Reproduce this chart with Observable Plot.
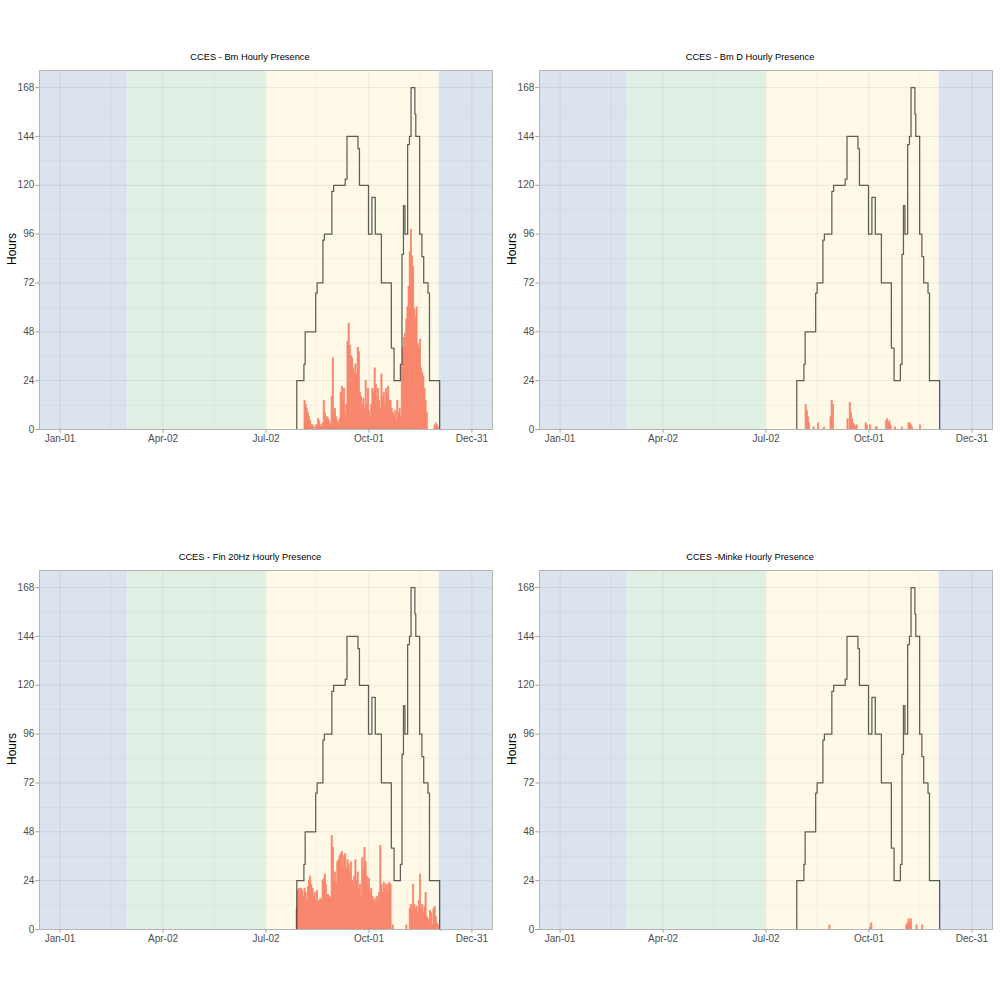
<!DOCTYPE html>
<html><head><meta charset="utf-8">
<script src="https://cdn.jsdelivr.net/npm/d3@7"></script>
<script src="https://cdn.jsdelivr.net/npm/@observablehq/plot@0.6"></script>
<style>
body{margin:0;background:#fff;font-family:"Liberation Sans",Arial,Helvetica,sans-serif;}
#root{position:relative;width:1000px;height:1000px;overflow:hidden;}
.title{position:absolute;width:500px;text-align:center;font-size:9.3px;line-height:12px;color:#000;}
.ylab{position:absolute;font-size:12px;color:#000;transform:translate(-50%,-50%) rotate(-90deg);white-space:nowrap;}
.panel{position:absolute;}
</style></head><body><div id="root"></div>
<script>
// ---------- data ----------
const titles = ["CCES - Bm Hourly Presence", "CCES - Bm D Hourly Presence", "CCES - Fin 20Hz Hourly Presence", "CCES -Minke Hourly Presence"];
const tickDates = ["2018-01-01", "2018-04-02", "2018-07-02", "2018-10-01", "2018-12-31"];
const minorDates = ["2018-02-15", "2018-05-17", "2018-08-16", "2018-11-15"];
const yTicks = [0, 24, 48, 72, 96, 120, 144, 168];
const yMinor = [12, 36, 60, 84, 108, 132, 156];
const seasonBreaks = ["2018-03-02", "2018-07-02", "2018-12-02"];
const seasonFills = ["#dbe4ee", "#e1f0e5", "#fefae7", "#dbe4ee"];

// effort: day of year (0 = Jan-01) and hours in week, drawn as a step line
const effortDay = [209.2, 209.2, 215.5, 216.6, 225.9, 227.2, 232.3, 233.6, 240.2, 241.8, 252.0, 253.6, 263.3, 264.6, 272.6, 275.6, 278.6, 284.0, 292.8, 295.2, 300.8, 302.2, 303.5, 304.8, 307.2, 308.8, 310.2, 313.6, 314.4, 317.8, 319.8, 321.4, 325.2, 326.5, 335.5, 337.5];
const effortHours = [0, 24, 32, 48, 67, 72, 93, 96, 117, 120, 123, 144, 138, 120, 96, 114, 96, 72, 40, 24, 32, 86, 110, 96, 140, 144, 168, 155, 144, 96, 85, 72, 67, 24, 0, 0];

// Bm daily hours, consecutive days from bmStart
const bmStart = "2018-08-05";
const bmHours = [14, 12, 10, 8, 6, 4, 2, 2, 1, 0, 2, 1, 5, 4, 2, 1, 3, 14, 8, 5, 6, 5, 4, 2, 16, 35, 8, 10, 6, 4, 3, 5, 18, 21, 14, 20, 8, 12, 43, 52, 41, 36, 35, 30, 28, 32, 27, 40, 38, 18, 16, 12, 15, 10, 24, 12, 20, 9, 6, 12, 20, 18, 30, 22, 16, 20, 14, 10, 27, 16, 18, 12, 20, 16, 21, 14, 14, 10, 8, 6, 9, 4, 14, 8, 10, 6, 31, 40, 45, 47, 54, 60, 70, 87, 98, 85, 80, 59, 55, 60, 42, 40, 44, 30, 28, 26, 20, 14, 8, 0, 0, 0, 0, 0, 0, 2, 3, 2, 1];

// Fin 20Hz daily hours, consecutive days from finStart
const finStart = "2018-07-29";
const finHours = [10, 19, 20, 17, 20, 19, 16, 20, 18, 14, 21, 24, 26, 22, 20, 16, 18, 14, 19, 13, 14, 15, 14, 24, 25, 27, 22, 17, 17, 16, 15, 46, 40, 24, 28, 22, 33, 34, 36, 37, 38, 30, 36, 37, 30, 34, 32, 28, 33, 24, 22, 26, 34, 24, 28, 20, 22, 16, 35, 30, 40, 33, 26, 22, 25, 18, 20, 16, 14, 15, 13, 16, 14, 18, 41, 22, 18, 23, 20, 22, 18, 22, 23, 22, 0, 2, 0, 0, 0, 0, 0, 0, 0, 0, 0, 0, 0, 2, 0, 0, 10, 12, 9, 22, 12, 10, 11, 8, 14, 27, 10, 12, 8, 11, 18, 6, 5, 4, 9, 8, 2, 10, 11, 6, 3, 2];

// Bm D detections (sparse)
const bmdDates = ["2018-08-06", "2018-08-07", "2018-08-08", "2018-08-09", "2018-08-13", "2018-08-17", "2018-08-22", "2018-08-28", "2018-08-29", "2018-08-30", "2018-09-12", "2018-09-14", "2018-09-15", "2018-09-16", "2018-09-17", "2018-09-18", "2018-09-19", "2018-09-20", "2018-09-28", "2018-09-29", "2018-10-02", "2018-10-07", "2018-10-08", "2018-10-16", "2018-10-17", "2018-10-18", "2018-10-19", "2018-10-20", "2018-10-24", "2018-10-30", "2018-11-05", "2018-11-06", "2018-11-07", "2018-11-08", "2018-11-15"];
const bmdHours = [12, 9, 6, 3, 1, 3, 1, 6, 14, 12, 5, 13, 8, 5, 3, 2, 1, 2, 3, 2, 2, 1, 1, 4, 5, 3, 4, 2, 1, 1, 3, 3, 2, 1, 2];

// Minke detections (sparse)
const minkeDates = ["2018-08-27", "2018-10-02", "2018-10-03", "2018-11-03", "2018-11-04", "2018-11-05", "2018-11-06", "2018-11-07", "2018-11-12", "2018-11-17"];
const minkeHours = [2, 1, 3, 2, 3, 5, 3, 5, 2, 2];

// ---------- helpers ----------
const DAY = 864e5;
const parse = s => new Date(s + "T00:00:00Z");
const jan1 = parse(tickDates[0]);
const dec31 = parse(tickDates[tickDates.length - 1]);
const span = dec31 - jan1;
const xDomain = [new Date(+jan1 - 0.05 * span), new Date(+dec31 + 0.05 * span)];
const yDomain = [0, d3.max(yTicks) * 1.05];

const seasonEdges = [xDomain[0], ...seasonBreaks.map(parse), xDomain[1]];
const seasons = seasonFills.map((f, i) => ({x1: seasonEdges[i], x2: seasonEdges[i + 1], fill: f}));
const effort = effortDay.map((d, i) => ({date: new Date(+jan1 + d * DAY), hours: effortHours[i]}));

const consecutive = (start, vals) => vals.map((v, i) => ({date: new Date(+parse(start) + i * DAY), hours: v}));
const sparse = (dates, vals) => dates.map((d, i) => ({date: parse(d), hours: vals[i]}));
const panelsData = [
  consecutive(bmStart, bmHours),
  sparse(bmdDates, bmdHours),
  consecutive(finStart, finHours),
  sparse(minkeDates, minkeHours)
];

const root = document.getElementById("root");
const fmt = d3.utcFormat("%b-%d");
const barColor = "#f8866c";

panelsData.forEach((bars, k) => {
  const ox = (k % 2) * 500, oy = Math.floor(k / 2) * 500;
  const t = document.createElement("div");
  t.className = "title"; t.textContent = titles[k];
  t.style.left = ox + "px"; t.style.top = (oy + 51) + "px";
  root.appendChild(t);
  const yl = document.createElement("div");
  yl.className = "ylab"; yl.textContent = "Hours";
  yl.style.left = (ox + 12) + "px"; yl.style.top = (oy + 249) + "px";
  root.appendChild(yl);

  const chart = Plot.plot({
    width: 500, height: 400,
    marginLeft: 39, marginRight: 8, marginTop: 10, marginBottom: 31,
    x: {type: "utc", domain: xDomain},
    y: {domain: yDomain},
    style: {fontFamily: '"Liberation Sans",Arial,sans-serif', fontSize: "10px", background: "transparent", color: "#4d4d4d"},
    marks: [
      Plot.rect(seasons, {x1: "x1", x2: "x2", fill: "fill"}),
      Plot.ruleX(minorDates.map(parse), {stroke: "#000", strokeOpacity: 0.05, strokeWidth: 0.7}),
      Plot.ruleX(tickDates.map(parse), {stroke: "#000", strokeOpacity: 0.07, strokeWidth: 1}),
      Plot.ruleY(yMinor, {stroke: "#000", strokeOpacity: 0.05, strokeWidth: 0.7}),
      Plot.ruleY(yTicks, {stroke: "#000", strokeOpacity: 0.07, strokeWidth: 1}),
      Plot.rectY(bars.filter(d => d.hours > 0), {x1: "date", x2: d => new Date(+d.date + DAY), y: "hours", fill: barColor, stroke: barColor, strokeWidth: 0.8, inset: 0}),
      Plot.line(effort, {x: "date", y: "hours", curve: "step-after", stroke: "#222", strokeOpacity: 0.72, strokeWidth: 1.25}),
      Plot.frame({stroke: "#b5b5b5"}),
      Plot.axisX(tickDates.map(parse), {tickFormat: fmt, tickSize: 3.7, tickPadding: 1.5, label: null, stroke: "#a0a0a0", fill: "#4d4d4d"}),
      Plot.axisY(yTicks, {tickSize: 3.7, tickPadding: 1.5, label: null, stroke: "#a0a0a0", fill: "#4d4d4d"})
    ]
  });
  chart.classList.add("panel");
  chart.style.left = ox + "px"; chart.style.top = (oy + 60) + "px";
  root.appendChild(chart);
});
</script>
</body></html>
